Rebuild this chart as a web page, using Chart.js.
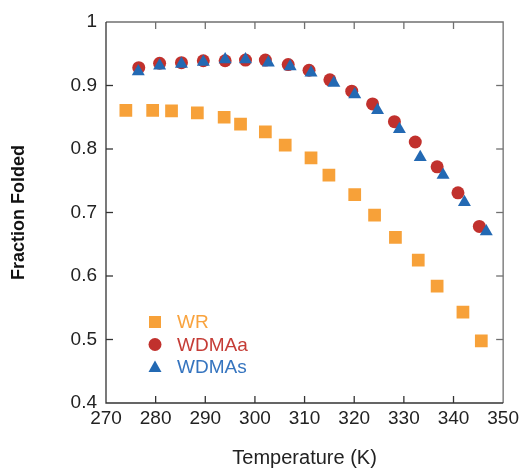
<!DOCTYPE html>
<html>
<head>
<meta charset="utf-8">
<script src="https://cdn.jsdelivr.net/npm/chart.js@4.4.1/dist/chart.umd.min.js"></script>
<style>
  html, body { margin: 0; padding: 0; background: #fff; }
  #wrap { width: 523px; height: 468px; }
</style>
</head>
<body>
<div id="wrap"><canvas id="chart" width="523" height="468"></canvas></div>
<script>
// temperatures (K) and fraction folded
const wrTemp = [274.0, 279.4, 283.2, 288.4, 293.8, 297.1, 302.1, 306.1, 311.3, 314.9, 320.1, 324.1, 328.3, 332.9, 336.7, 341.9, 345.6];
const wrFrac = [0.861, 0.861, 0.860, 0.857, 0.850, 0.839, 0.827, 0.806, 0.786, 0.759, 0.728, 0.696, 0.661, 0.625, 0.584, 0.543, 0.498];

const aTemp = [276.6, 280.8, 285.2, 289.6, 294.0, 298.1, 302.1, 306.7, 310.9, 315.1, 319.5, 323.7, 328.1, 332.3, 336.7, 340.9, 345.2];
const aFrac = [0.928, 0.935, 0.936, 0.939, 0.939, 0.940, 0.940, 0.933, 0.924, 0.909, 0.891, 0.871, 0.843, 0.811, 0.772, 0.731, 0.678];

const sTemp = [276.5, 280.8, 285.2, 289.6, 294.0, 298.1, 302.7, 307.1, 311.3, 315.9, 320.1, 324.7, 329.1, 333.3, 337.9, 342.2, 346.6];
const sFrac = [0.922, 0.931, 0.934, 0.937, 0.941, 0.941, 0.936, 0.930, 0.920, 0.904, 0.886, 0.861, 0.831, 0.787, 0.759, 0.716, 0.670];

const seriesNames = ['WR', 'WDMAa', 'WDMAs'];
const xTickLabels = ['270', '280', '290', '300', '310', '320', '330', '340', '350'];
const yTickLabels = ['0.4', '0.5', '0.6', '0.7', '0.8', '0.9', '1'];

const colors = ['#f7a139', '#c1312d', '#2369b3'];
const textColors = ['#f9a33e', '#c53c36', '#3574bf'];
const FONT = "'Liberation Sans', Arial, Helvetica, sans-serif";

function toPoints(xs, ys) {
    return xs.map((x, i) => ({ x: x, y: ys[i] }));
}

// frame with inward ticks on all four sides
const framePlugin = {
    id: 'frame',
    afterDraw(chart) {
        const ctx = chart.ctx;
        const a = chart.chartArea;
        const xs = chart.scales.x, ys = chart.scales.y;
        const tl = 7;
        ctx.save();
        ctx.lineWidth = 1.3;
        // top + right lighter
        ctx.strokeStyle = '#707070';
        ctx.beginPath();
        ctx.moveTo(a.left, a.top); ctx.lineTo(a.right, a.top); ctx.lineTo(a.right, a.bottom);
        ctx.stroke();
        xs.ticks.forEach(t => {
            const px = xs.getPixelForValue(t.value);
            if (px <= a.left + 1 || px >= a.right - 1) return;
            ctx.beginPath(); ctx.moveTo(px, a.top); ctx.lineTo(px, a.top + tl); ctx.stroke();
        });
        ys.ticks.forEach(t => {
            const py = ys.getPixelForValue(t.value);
            if (py <= a.top + 1 || py >= a.bottom - 1) return;
            ctx.beginPath(); ctx.moveTo(a.right, py); ctx.lineTo(a.right - tl, py); ctx.stroke();
        });
        // left + bottom darker
        ctx.strokeStyle = '#333';
        ctx.beginPath();
        ctx.moveTo(a.left, a.top); ctx.lineTo(a.left, a.bottom); ctx.lineTo(a.right, a.bottom);
        ctx.stroke();
        xs.ticks.forEach(t => {
            const px = xs.getPixelForValue(t.value);
            if (px <= a.left + 1 || px >= a.right - 1) return;
            ctx.beginPath(); ctx.moveTo(px, a.bottom); ctx.lineTo(px, a.bottom - tl); ctx.stroke();
        });
        ys.ticks.forEach(t => {
            const py = ys.getPixelForValue(t.value);
            if (py <= a.top + 1 || py >= a.bottom - 1) return;
            ctx.beginPath(); ctx.moveTo(a.left, py); ctx.lineTo(a.left + tl, py); ctx.stroke();
        });
        ctx.restore();
    }
};

// legend inside the plot, text coloured like the series
const legendPlugin = {
    id: 'innerLegend',
    afterDraw(chart) {
        const ctx = chart.ctx;
        const a = chart.chartArea;
        const mx = a.left + 49, tx = a.left + 71;
        let y = a.bottom - 81;
        ctx.save();
        ctx.font = '19px ' + FONT;
        ctx.textBaseline = 'middle';
        seriesNames.forEach((name, i) => {
            ctx.fillStyle = colors[i];
            ctx.beginPath();
            if (i === 0) {
                ctx.rect(mx - 6, y - 6, 12, 12);
            } else if (i === 1) {
                ctx.arc(mx, y, 6.5, 0, Math.PI * 2);
            } else {
                ctx.moveTo(mx, y - 6.5);
                ctx.lineTo(mx + 6.5, y + 5);
                ctx.lineTo(mx - 6.5, y + 5);
                ctx.closePath();
            }
            ctx.fill();
            ctx.fillStyle = textColors[i];
            ctx.fillText(name, tx, y + 1);
            y += 22.5;
        });
        ctx.restore();
    }
};

const ctx = document.getElementById('chart').getContext('2d');
new Chart(ctx, {
    type: 'scatter',
    data: {
        datasets: [
            {
                label: seriesNames[0],
                data: toPoints(wrTemp, wrFrac),
                pointStyle: 'rect',
                pointRadius: 9,
                backgroundColor: colors[0],
                borderColor: colors[0],
                borderWidth: 0,
                order: 3
            },
            {
                label: seriesNames[1],
                data: toPoints(aTemp, aFrac),
                pointStyle: 'circle',
                pointRadius: 6.5,
                backgroundColor: colors[1],
                borderColor: colors[1],
                borderWidth: 0,
                order: 2
            },
            {
                label: seriesNames[2],
                data: toPoints(sTemp, sFrac),
                pointStyle: 'triangle',
                pointRadius: 7.5,
                backgroundColor: colors[2],
                borderColor: colors[2],
                borderWidth: 0,
                order: 1
            }
        ]
    },
    options: {
        responsive: false,
        animation: false,
        layout: { padding: { top: 22, right: 16, bottom: 0, left: 0 } },
        plugins: {
            legend: { display: false },
            tooltip: { enabled: false }
        },
        scales: {
            x: {
                type: 'linear',
                min: 270,
                max: 350,
                afterFit: s => { s.height = 65; },
                grid: { drawOnChartArea: false, drawTicks: false, color: 'transparent' },
                border: { display: false },
                ticks: {
                    stepSize: 10,
                    padding: 4,
                    color: '#222',
                    font: { family: FONT, size: 19 },
                    maxRotation: 0,
                    callback: (v, i) => xTickLabels[i]
                },
                title: {
                    display: true,
                    text: 'Temperature (K)',
                    color: '#222',
                    font: { family: FONT, size: 20, lineHeight: 1.0 },
                    padding: { top: 0, bottom: 0 }
                }
            },
            y: {
                type: 'linear',
                min: 0.4,
                max: 1,
                afterFit: s => { s.width = 106; },
                grid: { drawOnChartArea: false, drawTicks: false, color: 'transparent' },
                border: { display: false },
                ticks: {
                    stepSize: 0.1,
                    padding: 9,
                    color: '#222',
                    font: { family: FONT, size: 19 },
                    callback: (v, i) => yTickLabels[i]
                },
                title: {
                    display: true,
                    text: 'Fraction Folded',
                    color: '#111',
                    font: { family: FONT, size: 18, weight: 'bold' },
                    padding: { top: 8, bottom: 0 }
                }
            }
        }
    },
    plugins: [framePlugin, legendPlugin]
});
</script>
</body>
</html>
